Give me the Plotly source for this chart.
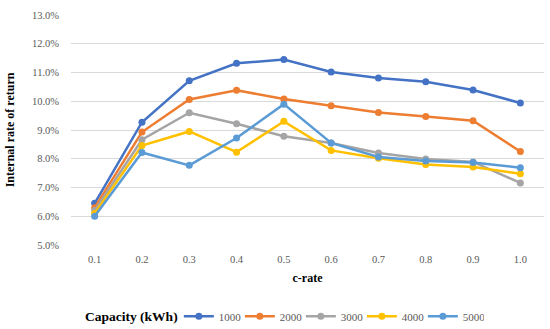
import plotly.graph_objects as go

c_rate = ["0.1", "0.2", "0.3", "0.4", "0.5", "0.6", "0.7", "0.8", "0.9", "1.0"]
irr_1000 = [6.45, 9.27, 10.71, 11.32, 11.45, 11.02, 10.81, 10.68, 10.39, 9.94]
irr_2000 = [6.30, 8.93, 10.06, 10.38, 10.08, 9.84, 9.61, 9.47, 9.32, 8.25]
irr_3000 = [6.20, 8.66, 9.60, 9.22, 8.78, 8.55, 8.20, 7.99, 7.89, 7.16]
irr_4000 = [6.10, 8.46, 8.95, 8.23, 9.30, 8.29, 8.02, 7.80, 7.71, 7.48]
irr_5000 = [6.00, 8.22, 7.77, 8.72, 9.90, 8.55, 8.06, 7.92, 7.87, 7.69]
series_names = ["1000", "2000", "3000", "4000", "5000"]
colors = ["#4472C4", "#ED7D31", "#A5A5A5", "#FFC000", "#5B9BD5"]
y_ticks = [5, 6, 7, 8, 9, 10, 11, 12, 13]
legend_title = "Capacity (kWh)"

fig = go.Figure()
for name, vals, col in zip(series_names, [irr_1000, irr_2000, irr_3000, irr_4000, irr_5000], colors):
    fig.add_trace(go.Scatter(
        x=c_rate, y=[v / 100 for v in vals], name=name, mode="lines+markers",
        line=dict(color=col, width=2.5), marker=dict(color=col, size=7),
    ))

serif = "Liberation Serif, serif"
fig.update_layout(
    width=550, height=329,
    margin=dict(l=71, r=6, t=15, b=84, autoexpand=False),
    paper_bgcolor="white", plot_bgcolor="white",
    font=dict(family=serif, size=10.5, color="#595959"),
    showlegend=True,
    legend=dict(
        orientation="h", x=0.228, xanchor="left", y=-0.31, yanchor="middle",
        font=dict(family=serif, size=11, color="#595959"),
        itemwidth=30, tracegroupgap=0, entrywidth=16, entrywidthmode="pixels",
    ),
    xaxis=dict(
        type="category", range=[-0.5, 9.5], showgrid=False, showline=False, ticks="",
        automargin=False, ticklabelstandoff=6,
        title=dict(text="<b>c-rate</b>", font=dict(family=serif, size=12, color="black"), standoff=10),
    ),
    yaxis=dict(
        range=[0.05, 0.13], tickvals=[t / 100 for t in y_ticks], tickformat=".1%",
        showgrid=True, gridcolor="#D9D9D9", gridwidth=1, zeroline=False, showline=False, ticks="",
        ticklabelstandoff=11, automargin=False,
        title=dict(text="<b>Internal rate of return</b>", font=dict(family=serif, size=12, color="black"), standoff=14),
    ),
    annotations=[dict(
        text="<b>" + legend_title + "</b>", xref="paper", yref="paper",
        x=(83 - 71) / 473, y=-0.31, xanchor="left", yanchor="middle", showarrow=False,
        font=dict(family=serif, size=13.5, color="black"),
    )],
)
fig.write_html(
    "out.html",
    config={"displayModeBar": False},
    post_script="document.body.style.margin='0px';document.body.style.overflow='hidden';",
)
